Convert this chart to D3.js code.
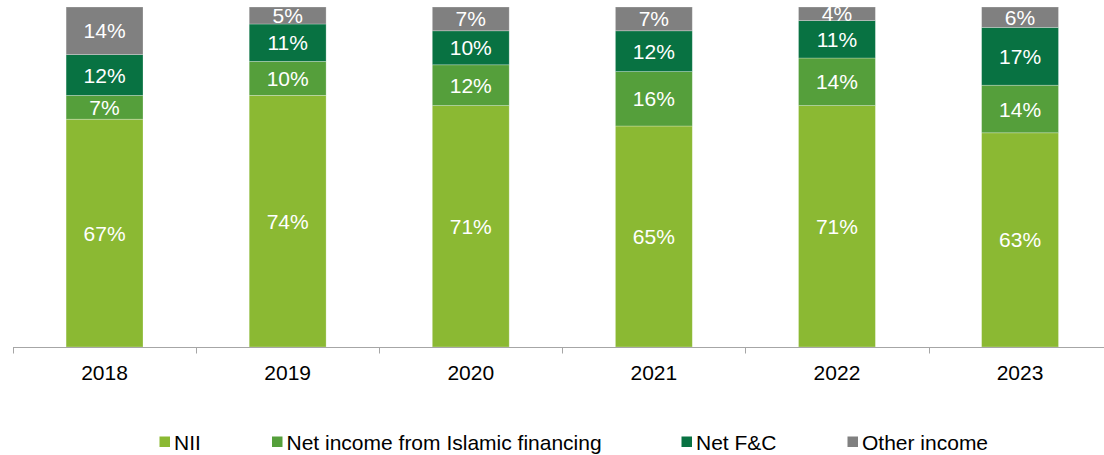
<!DOCTYPE html>
<html>
<head>
<meta charset="utf-8">
<script src="https://cdn.jsdelivr.net/npm/d3@7"></script>
<style>
  html, body { margin: 0; padding: 0; background: #fff; }
  svg { display: block; font-family: "Liberation Sans", Arial, sans-serif; }
</style>
</head>
<body>
<svg id="chart" width="1104" height="455"></svg>
<script>
// Income mix by year (% of total operating income)
const years = ["2018", "2019", "2020", "2021", "2022", "2023"];
const seriesNames = ["NII", "Net income from Islamic financing", "Net F&C", "Other income"];
const nii      = [67, 74, 71, 65, 71, 63];
const islamic  = [7, 10, 12, 16, 14, 14];
const netFC    = [12, 11, 10, 12, 11, 17];
const other    = [14, 5, 7, 7, 4, 6];
const colors   = ["#8bb933", "#559f3b", "#087242", "#808080"];

const seriesValues = [nii, islamic, netFC, other];
const rows = years.map((y, i) => {
  const r = { year: y };
  seriesNames.forEach((s, k) => { r[s] = seriesValues[k][i]; });
  return r;
});

const FONT = 21;
const svg = d3.select("#chart");
const x = d3.scaleBand().domain(years).range([13, 1111.6]).paddingInner(0.58).paddingOuter(0.29);
const y = d3.scaleLinear().domain([0, 100]).range([347, 7]);

const stack = d3.stack().keys(seriesNames);
const layers = stack(rows);

const g = svg.append("g");
layers.forEach((layer, k) => {
  const lg = g.append("g");
  lg.selectAll("rect").data(layer).join("rect")
    .attr("x", d => x(d.data.year))
    .attr("width", x.bandwidth())
    .attr("y", d => y(d[1]))
    .attr("height", d => y(d[0]) - y(d[1]))
    .attr("fill", colors[k])
    .attr("stroke", "#ffffff")
    .attr("stroke-opacity", 0.35)
    .attr("stroke-width", 0.75);
  lg.selectAll("text").data(layer).join("text")
    .attr("x", d => x(d.data.year) + x.bandwidth() / 2)
    .attr("y", d => (y(d[0]) + y(d[1])) / 2)
    .attr("dy", "0.36em")
    .attr("text-anchor", "middle")
    .attr("fill", "#ffffff")
    .attr("font-size", FONT)
    .text(d => (d[1] - d[0]) + "%");
});

// Category axis
const axisX = d3.scaleBand().domain(years).range([13, 1111.6]);
const axis = svg.append("g").attr("transform", "translate(0,347.5)")
  .call(d3.axisBottom(axisX).tickSize(0).tickPadding(18));
axis.select(".domain").attr("stroke", "#a6a6a6").attr("d", "M13,0H1111.6");
axis.selectAll("text").attr("font-size", FONT).attr("fill", "#000")
  .attr("font-family", "Liberation Sans, Arial, sans-serif");
// boundary ticks between categories
const bounds = years.map(yy => axisX(yy)).concat([axisX(years[years.length - 1]) + axisX.step()]);
axis.selectAll("line.bound").data(bounds).join("line")
  .attr("class", "bound")
  .attr("x1", d => Math.round(d) + 0.5).attr("x2", d => Math.round(d) + 0.5)
  .attr("y1", 0).attr("y2", 6)
  .attr("stroke", "#a6a6a6");

// Legend
const legendX = [159.5, 272, 681.5, 847.5];
const legend = svg.append("g");
seriesNames.forEach((s, k) => {
  legend.append("rect")
    .attr("x", legendX[k]).attr("y", 436.5)
    .attr("width", 10.5).attr("height", 10.5)
    .attr("fill", colors[k]);
  legend.append("text")
    .attr("x", legendX[k] + 14.5).attr("y", 442)
    .attr("dy", "0.36em")
    .attr("font-size", FONT)
    .attr("fill", "#000")
    .text(s);
});
</script>
</body>
</html>
